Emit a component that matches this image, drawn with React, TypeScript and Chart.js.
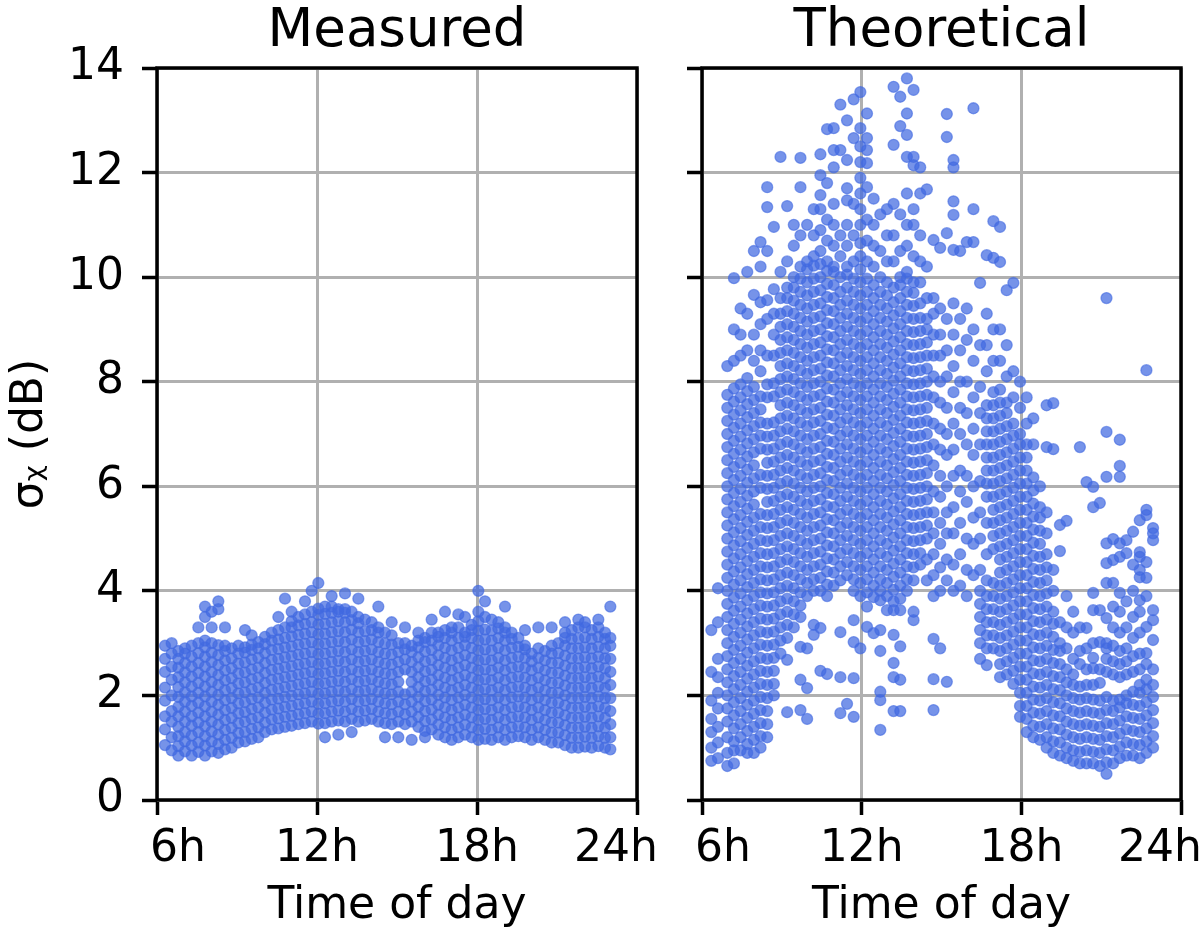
import React, { useEffect, useRef } from 'react';
import Chart from 'chart.js/auto';

// each entry is [hour of day, sigma values seen in that column]
const measuredColumns: [number, number[]][] = [
  [6.3, [1.05, 1.35, 1.6, 1.9, 2.15, 2.45, 2.7, 2.95]],
  [6.55, [0.95, 1.2, 1.5, 1.7, 2.0, 2.3, 2.55, 2.8, 3.0]],
  [6.8, [0.85, 1.03, 1.22, 1.4, 1.6, 1.78, 1.97, 2.16, 2.35, 2.53, 2.7, 2.85]],
  [7.05, [0.93, 1.12, 1.3, 1.5, 1.69, 1.88, 2.06, 2.25, 2.44, 2.62, 2.8, 2.9]],
  [7.3, [0.85, 1.04, 1.23, 1.42, 1.6, 1.8, 1.98, 2.17, 2.36, 2.55, 2.74, 2.95]],
  [7.55, [0.92, 1.1, 1.3, 1.48, 1.67, 1.86, 2.05, 2.24, 2.43, 2.62, 2.81, 3.0, 3.3]],
  [7.8, [0.85, 1.04, 1.22, 1.41, 1.6, 1.79, 1.98, 2.17, 2.36, 2.55, 2.74, 2.92, 3.05, 3.5, 3.7]],
  [8.05, [0.93, 1.12, 1.31, 1.5, 1.69, 1.88, 2.07, 2.26, 2.45, 2.64, 2.82, 3.0, 3.3, 3.6]],
  [8.3, [0.9, 1.07, 1.25, 1.44, 1.63, 1.82, 2.01, 2.2, 2.39, 2.58, 2.77, 2.96, 3.65, 3.8]],
  [8.55, [0.97, 1.15, 1.34, 1.53, 1.72, 1.91, 2.1, 2.29, 2.48, 2.67, 2.85, 2.95, 3.3]],
  [8.8, [1.0, 1.19, 1.38, 1.57, 1.76, 1.95, 2.14, 2.33, 2.52, 2.71, 2.9]],
  [9.05, [1.1, 1.28, 1.47, 1.66, 1.85, 2.04, 2.23, 2.42, 2.61, 2.8, 2.95]],
  [9.3, [1.12, 1.3, 1.5, 1.68, 1.87, 2.06, 2.25, 2.44, 2.63, 2.82, 2.92, 3.25]],
  [9.55, [1.17, 1.36, 1.55, 1.74, 1.93, 2.12, 2.31, 2.5, 2.69, 2.87, 2.97, 3.15]],
  [9.8, [1.2, 1.39, 1.58, 1.77, 1.96, 2.15, 2.34, 2.53, 2.72, 2.9, 3.02]],
  [10.05, [1.3, 1.48, 1.67, 1.86, 2.05, 2.24, 2.43, 2.62, 2.81, 2.98, 3.12]],
  [10.3, [1.35, 1.54, 1.73, 1.92, 2.11, 2.3, 2.49, 2.68, 2.87, 3.05, 3.2]],
  [10.55, [1.37, 1.56, 1.75, 1.94, 2.13, 2.32, 2.51, 2.7, 2.89, 3.07, 3.25, 3.5]],
  [10.8, [1.4, 1.59, 1.78, 1.97, 2.16, 2.35, 2.54, 2.73, 2.92, 3.1, 3.3, 3.85]],
  [11.05, [1.42, 1.61, 1.8, 1.99, 2.18, 2.37, 2.56, 2.75, 2.94, 3.13, 3.3, 3.42, 3.6]],
  [11.3, [1.45, 1.64, 1.83, 2.02, 2.21, 2.4, 2.59, 2.78, 2.97, 3.16, 3.34, 3.5]],
  [11.55, [1.47, 1.66, 1.85, 2.04, 2.23, 2.42, 2.61, 2.8, 2.99, 3.18, 3.37, 3.55, 3.8]],
  [11.8, [1.5, 1.69, 1.88, 2.07, 2.26, 2.45, 2.64, 2.83, 3.02, 3.21, 3.4, 3.6, 4.0]],
  [12.05, [1.46, 1.65, 1.84, 2.03, 2.22, 2.41, 2.6, 2.79, 2.98, 3.17, 3.36, 3.54, 3.66, 4.15]],
  [12.3, [1.2, 1.47, 1.66, 1.85, 2.04, 2.23, 2.42, 2.61, 2.8, 2.99, 3.18, 3.37, 3.56, 3.7]],
  [12.55, [1.5, 1.69, 1.88, 2.07, 2.26, 2.45, 2.64, 2.83, 3.02, 3.21, 3.4, 3.58, 3.7, 3.9]],
  [12.8, [1.25, 1.52, 1.71, 1.9, 2.09, 2.28, 2.47, 2.66, 2.85, 3.04, 3.23, 3.42, 3.6, 3.65]],
  [13.05, [1.5, 1.69, 1.88, 2.07, 2.26, 2.45, 2.64, 2.83, 3.02, 3.21, 3.4, 3.58, 3.65, 3.95]],
  [13.3, [1.3, 1.55, 1.74, 1.93, 2.12, 2.31, 2.5, 2.69, 2.88, 3.07, 3.26, 3.44, 3.6]],
  [13.55, [1.5, 1.69, 1.88, 2.07, 2.26, 2.45, 2.64, 2.83, 3.02, 3.21, 3.38, 3.5, 3.85]],
  [13.8, [1.52, 1.71, 1.9, 2.09, 2.28, 2.47, 2.66, 2.85, 3.04, 3.23, 3.45]],
  [14.05, [1.55, 1.74, 1.93, 2.12, 2.31, 2.5, 2.69, 2.88, 3.07, 3.25, 3.4]],
  [14.3, [1.5, 1.69, 1.88, 2.07, 2.26, 2.45, 2.64, 2.83, 3.02, 3.2, 3.3, 3.7]],
  [14.55, [1.2, 1.47, 1.66, 1.85, 2.04, 2.23, 2.42, 2.61, 2.8, 2.99, 3.2]],
  [14.8, [1.45, 1.64, 1.83, 2.02, 2.21, 2.4, 2.59, 2.78, 2.97, 3.15, 3.4]],
  [15.05, [1.2, 1.5, 1.69, 1.88, 2.07, 2.26, 2.45, 2.64, 2.83, 3.0]],
  [15.3, [1.45, 1.64, 1.83, 2.02, 2.5, 2.69, 2.88, 3.0, 3.3]],
  [15.55, [1.15, 1.5, 1.69, 1.88, 2.07, 2.26, 2.45, 2.64, 2.83, 2.95]],
  [15.8, [1.4, 1.59, 1.78, 1.97, 2.16, 2.35, 2.54, 2.73, 2.92, 3.05, 3.2]],
  [16.05, [1.2, 1.32, 1.51, 1.7, 1.89, 2.08, 2.27, 2.46, 2.65, 2.84, 3.02, 3.1]],
  [16.3, [1.35, 1.54, 1.73, 1.92, 2.11, 2.3, 2.49, 2.68, 2.87, 3.05, 3.2, 3.45]],
  [16.55, [1.25, 1.44, 1.63, 1.82, 2.01, 2.2, 2.39, 2.58, 2.77, 2.96, 3.12, 3.2]],
  [16.8, [1.2, 1.39, 1.58, 1.77, 1.96, 2.15, 2.34, 2.53, 2.72, 2.91, 3.1, 3.25, 3.6]],
  [17.05, [1.15, 1.34, 1.53, 1.72, 1.91, 2.1, 2.29, 2.48, 2.67, 2.86, 3.05, 3.2, 3.3]],
  [17.3, [1.2, 1.39, 1.58, 1.77, 1.96, 2.15, 2.34, 2.53, 2.72, 2.91, 3.1, 3.3, 3.55]],
  [17.55, [1.25, 1.44, 1.63, 1.82, 2.01, 2.2, 2.39, 2.58, 2.77, 2.96, 3.12, 3.2, 3.5]],
  [17.8, [1.2, 1.39, 1.58, 1.77, 1.96, 2.15, 2.34, 2.53, 2.72, 2.91, 3.1, 3.25, 3.35]],
  [18.05, [1.15, 1.34, 1.53, 1.72, 1.91, 2.1, 2.29, 2.48, 2.67, 2.86, 3.05, 3.24, 3.42, 3.6, 4.0]],
  [18.3, [1.17, 1.36, 1.55, 1.74, 1.93, 2.12, 2.31, 2.5, 2.69, 2.88, 3.07, 3.26, 3.5, 3.8]],
  [18.55, [1.15, 1.34, 1.53, 1.72, 1.91, 2.1, 2.29, 2.48, 2.67, 2.86, 3.05, 3.24, 3.45]],
  [18.8, [1.2, 1.39, 1.58, 1.77, 1.96, 2.15, 2.34, 2.53, 2.72, 2.91, 3.1, 3.28, 3.4]],
  [19.05, [1.15, 1.34, 1.53, 1.72, 1.91, 2.1, 2.29, 2.48, 2.67, 2.86, 3.05, 3.2, 3.3, 3.7]],
  [19.3, [1.2, 1.39, 1.58, 1.77, 1.96, 2.15, 2.34, 2.53, 2.72, 2.91, 3.08, 3.2]],
  [19.55, [1.22, 1.41, 1.6, 1.79, 1.98, 2.17, 2.36, 2.55, 2.74, 2.93, 3.1]],
  [19.8, [1.2, 1.39, 1.58, 1.77, 1.96, 2.15, 2.34, 2.53, 2.72, 2.88, 2.95, 3.25]],
  [20.05, [1.15, 1.34, 1.53, 1.72, 1.91, 2.1, 2.29, 2.48, 2.65, 2.8]],
  [20.3, [1.2, 1.39, 1.58, 1.77, 1.96, 2.15, 2.34, 2.53, 2.72, 2.9, 3.3]],
  [20.55, [1.15, 1.34, 1.53, 1.72, 1.91, 2.1, 2.29, 2.48, 2.67, 2.85]],
  [20.8, [1.1, 1.29, 1.48, 1.67, 1.86, 2.05, 2.24, 2.43, 2.62, 2.8, 2.95, 3.3]],
  [21.05, [1.1, 1.29, 1.48, 1.67, 1.86, 2.05, 2.24, 2.43, 2.62, 2.81, 3.0]],
  [21.3, [1.05, 1.24, 1.43, 1.62, 1.81, 2.0, 2.19, 2.38, 2.57, 2.76, 2.95, 3.1, 3.2, 3.4]],
  [21.55, [1.0, 1.19, 1.38, 1.57, 1.76, 1.95, 2.14, 2.33, 2.52, 2.71, 2.9, 3.08, 3.25]],
  [21.8, [1.0, 1.19, 1.38, 1.57, 1.76, 1.95, 2.14, 2.33, 2.52, 2.71, 2.9, 3.09, 3.3, 3.45]],
  [22.05, [1.02, 1.21, 1.4, 1.59, 1.78, 1.97, 2.16, 2.35, 2.54, 2.73, 2.92, 3.11, 3.3, 3.4]],
  [22.3, [1.0, 1.19, 1.38, 1.57, 1.76, 1.95, 2.14, 2.33, 2.52, 2.71, 2.9, 3.08, 3.25]],
  [22.55, [1.03, 1.22, 1.41, 1.6, 1.79, 1.98, 2.17, 2.36, 2.55, 2.74, 2.93, 3.12, 3.3, 3.45]],
  [22.8, [1.0, 1.19, 1.38, 1.57, 1.76, 1.95, 2.14, 2.33, 2.52, 2.71, 2.9, 3.08, 3.2]],
  [23.0, [0.97, 1.2, 1.45, 1.7, 1.95, 2.2, 2.45, 2.7, 2.95, 3.1, 3.7]],
];

const theoreticalColumns: [number, number[]][] = [
  [6.35, [0.75, 1.0, 1.3, 1.55, 1.9, 2.45, 3.25]],
  [6.6, [0.8, 1.1, 1.4, 1.75, 2.05, 2.35, 2.7, 3.4, 4.05]],
  [6.95, [0.65, 0.9, 1.2, 1.5, 1.75, 2.0, 2.25, 2.5, 2.75, 3.0, 3.25, 3.5, 3.75, 4.0, 4.25, 4.5, 4.75, 5.0, 5.25, 5.5, 5.75, 6.0, 6.25, 6.5, 6.75, 7.0, 7.25, 7.5, 7.75, 8.3]],
  [7.2, [0.7, 0.95, 1.12, 1.37, 1.62, 1.87, 2.12, 2.37, 2.62, 2.87, 3.12, 3.37, 3.62, 3.87, 4.12, 4.37, 4.62, 4.87, 5.12, 5.37, 5.62, 5.87, 6.12, 6.37, 6.62, 6.87, 7.12, 7.37, 7.62, 7.87, 8.4, 9.0, 9.98]],
  [7.45, [0.95, 1.2, 1.45, 1.7, 1.95, 2.2, 2.45, 2.7, 2.95, 3.2, 3.45, 3.7, 3.95, 4.2, 4.45, 4.7, 4.95, 5.2, 5.45, 5.7, 5.95, 6.2, 6.45, 6.7, 6.95, 7.2, 7.45, 7.7, 7.95, 8.5, 8.9, 9.4]],
  [7.7, [0.9, 1.07, 1.32, 1.57, 1.82, 2.07, 2.32, 2.57, 2.82, 3.07, 3.32, 3.57, 3.82, 4.07, 4.32, 4.57, 4.82, 5.07, 5.32, 5.57, 5.82, 6.07, 6.32, 6.57, 6.82, 7.07, 7.32, 7.57, 7.82, 8.07, 8.6, 9.3, 10.1]],
  [7.95, [0.9, 1.15, 1.4, 1.65, 1.9, 2.15, 2.4, 2.65, 2.9, 3.15, 3.4, 3.65, 3.9, 4.15, 4.4, 4.65, 4.9, 5.15, 5.4, 5.65, 5.9, 6.15, 6.4, 6.65, 6.9, 7.15, 7.4, 7.65, 7.9, 8.4, 8.9, 9.66, 10.5]],
  [8.2, [1.0, 1.22, 1.47, 1.72, 1.97, 2.22, 2.47, 2.72, 2.97, 3.22, 3.47, 3.72, 3.97, 4.22, 4.47, 4.72, 4.97, 5.22, 5.47, 5.97, 6.22, 6.72, 6.97, 7.22, 7.47, 7.72, 8.2, 8.6, 9.1, 9.52, 10.2, 10.67]],
  [8.45, [1.2, 1.45, 1.7, 1.95, 2.2, 2.45, 2.7, 2.95, 3.2, 3.45, 3.7, 3.95, 4.2, 4.45, 4.7, 4.95, 5.2, 5.45, 5.7, 5.95, 6.2, 6.45, 6.7, 6.95, 7.2, 7.7, 7.95, 8.5, 9.2, 9.56, 10.5, 11.34, 11.72]],
  [8.7, [2.0, 2.22, 2.47, 2.72, 2.97, 3.22, 3.47, 3.72, 3.97, 4.22, 4.47, 4.72, 4.97, 5.22, 5.47, 5.72, 5.97, 6.22, 6.47, 6.72, 6.97, 7.22, 7.72, 7.97, 8.5, 8.9, 9.3, 9.77, 10.96]],
  [8.95, [2.8, 3.05, 3.3, 3.55, 3.8, 4.05, 4.3, 4.55, 4.8, 5.05, 5.3, 5.55, 5.8, 6.05, 6.3, 6.55, 6.8, 7.05, 7.3, 7.55, 7.8, 8.05, 8.3, 8.55, 8.8, 9.05, 9.3, 9.6, 10.1, 12.3]],
  [9.2, [1.68, 2.68, 3.1, 3.35, 3.6, 3.85, 4.1, 4.35, 4.6, 4.85, 5.1, 5.35, 5.6, 5.85, 6.1, 6.35, 6.6, 6.85, 7.1, 7.35, 7.6, 7.85, 8.1, 8.35, 8.6, 8.85, 9.1, 9.35, 9.6, 9.8, 10.3, 11.36]],
  [9.45, [3.3, 3.55, 3.8, 4.05, 4.3, 4.55, 4.8, 5.05, 5.3, 5.55, 5.8, 6.05, 6.3, 6.55, 6.8, 7.05, 7.3, 7.55, 7.8, 8.05, 8.3, 8.55, 8.8, 9.05, 9.3, 9.55, 9.8, 10.0, 10.6, 11.0]],
  [9.7, [1.72, 2.3, 2.93, 3.5, 3.72, 3.97, 4.22, 4.47, 4.72, 4.97, 5.22, 5.47, 5.72, 5.97, 6.22, 6.47, 6.72, 6.97, 7.22, 7.47, 7.72, 7.97, 8.22, 8.47, 8.72, 8.97, 9.22, 9.47, 9.72, 9.97, 10.2, 10.8, 11.72, 12.28]],
  [9.95, [1.55, 2.14, 2.9, 3.9, 4.15, 4.4, 4.65, 4.9, 5.15, 5.4, 5.65, 5.9, 6.15, 6.4, 6.65, 6.9, 7.15, 7.4, 7.65, 7.9, 8.15, 8.4, 8.65, 8.9, 9.15, 9.4, 9.65, 9.9, 10.15, 10.3, 11.0]],
  [10.2, [3.16, 3.35, 4.0, 4.22, 4.47, 4.72, 4.97, 5.22, 5.47, 5.72, 5.97, 6.22, 6.47, 6.72, 6.97, 7.22, 7.47, 7.72, 7.97, 8.22, 8.47, 8.72, 8.97, 9.22, 9.47, 9.72, 9.97, 10.22, 10.4, 10.8, 11.3]],
  [10.45, [2.47, 3.29, 4.0, 4.25, 4.5, 4.75, 5.0, 5.25, 5.5, 5.75, 6.0, 6.25, 6.5, 6.75, 7.0, 7.25, 7.5, 7.75, 8.0, 8.25, 8.5, 8.75, 9.0, 9.25, 9.5, 9.75, 10.0, 10.25, 10.5, 10.9, 11.3, 11.57, 11.95, 12.35]],
  [10.7, [2.41, 3.9, 4.12, 4.37, 4.62, 4.87, 5.12, 5.37, 5.62, 5.87, 6.12, 6.37, 6.62, 6.87, 7.12, 7.37, 7.62, 7.87, 8.12, 8.37, 8.62, 8.87, 9.12, 9.37, 9.62, 9.87, 10.12, 10.3, 10.7, 11.1, 11.8, 12.83]],
  [10.95, [4.1, 4.35, 4.6, 4.85, 5.1, 5.35, 5.6, 5.85, 6.1, 6.35, 6.6, 6.85, 7.1, 7.35, 7.6, 7.85, 8.1, 8.35, 8.6, 8.85, 9.1, 9.35, 9.6, 9.85, 10.1, 10.2, 10.6, 11.0, 11.4, 12.1, 12.43, 12.85]],
  [11.2, [1.66, 2.35, 3.21, 4.2, 4.47, 4.72, 4.97, 5.22, 5.47, 5.72, 5.97, 6.22, 6.47, 6.72, 6.97, 7.22, 7.47, 7.72, 7.97, 8.22, 8.47, 8.72, 8.97, 9.22, 9.47, 9.72, 10.0, 10.4, 10.8, 12.43, 13.3]],
  [11.45, [1.84, 4.3, 4.55, 4.8, 5.05, 5.3, 5.55, 5.8, 6.05, 6.3, 6.55, 6.8, 7.05, 7.3, 7.55, 7.8, 8.05, 8.3, 8.55, 8.8, 9.05, 9.3, 9.55, 9.8, 10.05, 10.2, 10.6, 11.0, 11.47, 11.7, 12.24, 13.0]],
  [11.7, [1.59, 2.33, 3.02, 3.44, 4.0, 4.22, 4.47, 4.72, 4.97, 5.22, 5.47, 5.72, 5.97, 6.22, 6.47, 6.72, 6.97, 7.22, 7.47, 7.72, 7.97, 8.22, 8.47, 8.72, 8.97, 9.22, 9.47, 9.72, 9.97, 10.3, 10.8, 11.4, 12.66, 13.4]],
  [11.95, [2.9, 3.9, 4.15, 4.4, 4.65, 4.9, 5.15, 5.4, 5.65, 5.9, 6.15, 6.4, 6.65, 6.9, 7.15, 7.4, 7.65, 7.9, 8.15, 8.4, 8.65, 8.9, 9.15, 9.4, 9.65, 9.9, 10.15, 10.4, 10.65, 11.0, 11.3, 11.6, 11.9, 12.2, 12.5, 12.85, 13.54]],
  [12.2, [3.31, 3.7, 3.97, 4.22, 4.47, 4.72, 4.97, 5.22, 5.47, 5.72, 5.97, 6.22, 6.47, 6.72, 6.97, 7.22, 7.47, 7.72, 7.97, 8.22, 8.47, 8.72, 8.97, 9.22, 9.47, 9.72, 9.97, 10.3, 10.7, 11.1, 11.72, 12.18, 12.43, 12.66, 13.13]],
  [12.45, [3.19, 3.88, 4.1, 4.35, 4.6, 4.85, 5.1, 5.35, 5.6, 5.85, 6.1, 6.35, 6.6, 6.85, 7.1, 7.35, 7.6, 7.85, 8.1, 8.35, 8.6, 8.85, 9.1, 9.35, 9.6, 9.85, 10.2, 10.6, 11.0, 11.5]],
  [12.7, [1.34, 1.91, 2.07, 2.85, 3.25, 3.82, 4.0, 4.22, 4.47, 4.72, 4.97, 5.22, 5.47, 5.72, 5.97, 6.22, 6.47, 6.72, 6.97, 7.22, 7.47, 7.72, 7.97, 8.22, 8.47, 8.72, 8.97, 9.22, 9.47, 9.72, 10.0, 10.5, 11.2]],
  [12.95, [3.63, 3.9, 4.15, 4.4, 4.65, 4.9, 5.15, 5.4, 5.65, 5.9, 6.15, 6.4, 6.65, 6.9, 7.15, 7.4, 7.65, 7.9, 8.15, 8.4, 8.65, 8.9, 9.15, 9.4, 9.65, 9.9, 10.3, 10.8, 11.3]],
  [13.2, [1.7, 2.35, 2.62, 3.16, 3.63, 3.8, 4.02, 4.27, 4.52, 4.77, 5.02, 5.27, 5.52, 5.77, 6.02, 6.27, 6.52, 6.77, 7.02, 7.27, 7.52, 7.77, 8.02, 8.27, 8.52, 8.77, 9.02, 9.27, 9.52, 9.8, 10.3, 10.8, 11.4, 12.53, 13.64]],
  [13.45, [1.7, 2.3, 2.94, 3.63, 3.85, 4.1, 4.35, 4.6, 4.85, 5.1, 5.35, 5.6, 5.85, 6.1, 6.35, 6.6, 6.85, 7.1, 7.35, 7.6, 7.85, 8.1, 8.35, 8.6, 8.85, 9.1, 9.35, 9.6, 9.85, 10.0, 10.5, 11.2, 12.89, 13.45]],
  [13.7, [4.0, 4.22, 4.47, 4.72, 4.97, 5.22, 5.47, 5.72, 5.97, 6.22, 6.47, 6.72, 6.97, 7.22, 7.47, 7.72, 7.97, 8.22, 8.47, 8.72, 8.97, 9.22, 9.47, 9.72, 9.97, 10.1, 10.6, 11.0, 11.6, 12.3, 12.72, 13.13, 13.8]],
  [13.95, [3.44, 3.6, 4.2, 4.45, 4.7, 4.95, 5.2, 5.45, 5.7, 5.95, 6.2, 6.45, 6.7, 6.95, 7.2, 7.45, 7.7, 7.95, 8.2, 8.45, 8.7, 8.95, 9.2, 9.45, 9.7, 9.9, 10.4, 11.0, 11.3, 12.14, 12.3, 13.58]],
  [14.2, [4.5, 4.72, 4.97, 5.22, 5.47, 5.72, 5.97, 6.22, 6.47, 6.72, 6.97, 7.22, 7.47, 7.72, 7.97, 8.22, 8.47, 8.72, 8.97, 9.22, 9.5, 9.9, 10.3, 10.8, 11.6, 12.1]],
  [14.45, [4.2, 4.6, 5.0, 5.25, 5.5, 5.75, 6.0, 6.25, 6.5, 6.75, 7.0, 7.25, 7.5, 7.75, 8.0, 8.25, 8.5, 8.75, 9.0, 9.2, 9.6, 10.2, 11.68]],
  [14.7, [1.72, 2.31, 3.08, 3.9, 4.3, 4.7, 5.1, 5.5, 5.9, 6.4, 6.8, 7.2, 7.7, 8.1, 8.5, 8.9, 9.3, 9.6, 10.71]],
  [14.95, [2.9, 4.0, 4.45, 4.9, 5.3, 5.8, 6.2, 6.7, 7.1, 7.6, 8.0, 8.5, 8.9, 9.4, 10.56]],
  [15.2, [2.26, 4.2, 4.6, 5.1, 5.5, 6.0, 6.6, 7.0, 7.5, 8.1, 8.6, 9.2, 10.84, 12.68, 13.12]],
  [15.45, [4.0, 4.5, 5.1, 5.6, 6.2, 6.7, 7.2, 7.8, 8.3, 8.9, 9.5, 10.52, 11.19, 11.45, 12.1, 12.24]],
  [15.7, [4.1, 4.7, 5.3, 5.9, 6.3, 7.0, 7.5, 8.0, 8.6, 9.2, 10.5]],
  [15.95, [3.9, 4.4, 5.0, 5.7, 6.2, 6.8, 7.4, 8.0, 8.8, 9.4, 10.67]],
  [16.2, [4.3, 4.9, 5.4, 6.0, 6.6, 7.1, 7.7, 8.4, 9.0, 10.67, 11.3, 13.23]],
  [16.45, [2.7, 3.0, 3.25, 3.5, 3.75, 4.0, 4.4, 5.0, 5.5, 6.1, 6.8, 7.4, 7.9, 8.7, 9.89]],
  [16.7, [2.58, 2.9, 3.15, 3.4, 3.65, 3.9, 4.2, 4.7, 5.3, 5.8, 6.05, 6.3, 6.55, 6.8, 7.05, 7.3, 7.55, 8.2, 8.7, 9.3, 10.42]],
  [16.95, [2.9, 3.15, 3.4, 3.65, 3.9, 4.15, 4.8, 5.05, 5.3, 5.55, 5.8, 6.05, 6.3, 6.55, 6.8, 7.05, 7.3, 7.55, 7.8, 8.4, 9.0, 10.37, 11.07]],
  [17.2, [2.35, 2.6, 2.85, 3.1, 3.35, 3.6, 3.85, 4.1, 4.35, 4.6, 4.85, 5.1, 5.35, 5.6, 5.85, 6.1, 6.35, 6.6, 6.85, 7.1, 7.35, 7.6, 7.85, 8.4, 9.0, 10.29, 10.96]],
  [17.45, [2.4, 2.65, 2.9, 3.15, 3.4, 3.65, 3.9, 4.15, 4.4, 4.65, 4.9, 5.15, 5.4, 5.65, 5.9, 6.15, 6.4, 6.65, 6.9, 7.15, 7.4, 7.6, 8.1, 8.7, 9.75]],
  [17.7, [2.22, 2.47, 2.72, 2.97, 3.22, 3.47, 3.72, 3.97, 4.22, 4.47, 4.72, 4.97, 5.22, 5.47, 5.72, 5.97, 6.22, 6.47, 6.72, 6.97, 7.2, 7.7, 8.2, 9.89]],
  [17.95, [1.59, 1.8, 2.05, 2.3, 2.55, 2.8, 3.05, 3.3, 3.55, 3.8, 4.05, 4.3, 4.55, 4.8, 5.05, 5.3, 5.55, 5.8, 6.05, 6.3, 6.55, 6.8, 7.0, 7.5, 8.0]],
  [18.2, [1.3, 1.55, 1.8, 2.05, 2.3, 2.55, 2.8, 3.05, 3.3, 3.55, 3.8, 4.05, 4.3, 4.55, 4.8, 5.05, 5.3, 5.55, 5.8, 6.05, 6.3, 6.55, 6.8, 7.2, 7.7]],
  [18.45, [1.2, 1.42, 1.67, 1.92, 2.17, 2.42, 2.67, 2.92, 3.17, 3.42, 3.67, 3.92, 4.17, 4.42, 4.67, 4.92, 5.17, 5.42, 5.67, 5.92, 6.17, 6.8, 7.3]],
  [18.7, [1.15, 1.4, 1.65, 1.9, 2.15, 2.4, 2.65, 2.9, 3.15, 3.4, 3.65, 3.9, 4.15, 4.4, 4.65, 4.9, 5.15, 5.4, 5.6, 6.0]],
  [18.95, [1.0, 1.2, 1.45, 1.7, 1.95, 2.2, 2.45, 2.7, 2.95, 3.2, 3.45, 3.7, 3.95, 4.2, 4.45, 4.7, 5.1, 5.5, 6.75, 7.55]],
  [19.2, [0.9, 1.12, 1.37, 1.62, 1.87, 2.12, 2.37, 2.62, 2.87, 3.12, 3.37, 3.6, 4.0, 4.4, 6.71, 7.59]],
  [19.45, [0.85, 1.1, 1.35, 1.6, 1.85, 2.1, 2.35, 2.6, 2.85, 3.0, 3.4, 4.76, 5.26]],
  [19.7, [0.8, 1.0, 1.25, 1.5, 1.75, 2.0, 2.25, 2.5, 2.9, 3.3, 3.9, 5.34]],
  [19.95, [0.75, 0.95, 1.2, 1.45, 1.7, 1.95, 2.2, 2.4, 2.7, 3.2, 3.6]],
  [20.2, [0.7, 0.92, 1.17, 1.42, 1.67, 1.92, 2.17, 2.6, 2.85, 3.3, 6.75]],
  [20.45, [0.7, 0.95, 1.2, 1.45, 1.7, 1.95, 2.2, 2.5, 2.9, 3.29, 6.08]],
  [20.7, [0.7, 0.92, 1.17, 1.42, 1.67, 1.92, 2.2, 2.52, 2.72, 3.0, 3.63, 3.96, 5.6, 5.99]],
  [20.95, [0.65, 0.9, 1.15, 1.4, 1.65, 1.9, 2.24, 2.5, 3.02, 3.63, 5.68]],
  [21.2, [0.5, 0.72, 0.97, 1.22, 1.47, 1.72, 1.97, 2.45, 2.7, 2.9, 3.0, 3.48, 4.15, 4.53, 4.91, 6.18, 7.04, 9.6]],
  [21.45, [0.7, 0.95, 1.2, 1.45, 1.7, 1.9, 2.4, 2.65, 2.95, 3.3, 3.7, 4.15, 4.59, 4.99]],
  [21.7, [0.8, 1.02, 1.27, 1.52, 1.77, 1.92, 2.35, 2.6, 2.85, 3.2, 3.6, 3.96, 4.65, 4.91, 6.18, 6.39, 6.89]],
  [21.95, [0.85, 1.1, 1.35, 1.6, 1.85, 2.0, 2.4, 2.65, 2.9, 3.3, 3.8, 4.72, 4.97]],
  [22.2, [0.85, 1.07, 1.32, 1.57, 1.82, 2.07, 2.45, 2.75, 3.1, 3.5, 4.0, 4.5, 5.13]],
  [22.45, [0.8, 1.05, 1.3, 1.55, 1.8, 2.05, 2.2, 2.5, 2.8, 3.2, 3.6, 3.82, 4.26, 4.4, 4.65, 4.74, 5.35]],
  [22.7, [0.9, 1.12, 1.37, 1.62, 1.87, 2.12, 2.3, 2.6, 2.81, 3.31, 3.9, 4.25, 4.55, 5.45, 5.55, 8.22]],
  [22.95, [1.0, 1.22, 1.47, 1.72, 1.97, 2.2, 2.5, 3.06, 3.44, 3.63, 4.97, 5.1, 5.2]],
];

const hourTicks = [6, 12, 18, 24];
const hourLabels = ['   6h', '12h', '18h', '24h   '];
const sigmaTicks = [0, 2, 4, 6, 8, 10, 12, 14];

const FONT = 'DejaVu Sans';
const DOT = 'rgba(65, 105, 225, 0.72)';
const DOT_EDGE = 'rgba(65, 105, 225, 0.6)';

const toPoints = (cols: [number, number[]][]) =>
  cols.flatMap(([h, vals]) => vals.map((v) => ({ x: h, y: v })));

// matplotlib-style box around the axes
const spines = {
  id: 'spines',
  afterDraw(chart: any) {
    const { ctx, chartArea: a } = chart;
    ctx.save();
    ctx.strokeStyle = '#000';
    ctx.lineWidth = 3.5;
    ctx.strokeRect(a.left, a.top, a.right - a.left, a.bottom - a.top);
    ctx.restore();
  },
};

const gridOpts = {
  color: '#b0b0b0',
  lineWidth: 3,
  drawTicks: true,
  tickLength: 15,
  tickColor: '#000',
  tickWidth: 3.5,
};

function buildConfig(title: string, cols: [number, number[]][], left: boolean): any {
  return {
    type: 'scatter',
    data: {
      datasets: [
        {
          data: toPoints(cols),
          pointRadius: 5.5,
          pointHoverRadius: 5.5,
          pointBorderWidth: 1.3,
          backgroundColor: DOT,
          borderColor: DOT_EDGE,
        },
      ],
    },
    options: {
      responsive: false,
      animation: false,
      events: [],
      layout: {
        padding: left
          ? { left: 0, right: 563, top: 0, bottom: 0 }
          : { left: 662, right: 19, top: 0, bottom: 0 },
      },
      plugins: {
        legend: { display: false },
        tooltip: { enabled: false },
        title: {
          display: true,
          text: title,
          fullSize: false,
          color: '#000',
          font: { family: FONT, size: 53, weight: 'normal' },
          padding: { top: 0, bottom: 4.4 },
        },
      },
      scales: {
        x: {
          type: 'linear',
          min: 6,
          max: 24,
          z: 1,
          afterBuildTicks: (s: any) => {
            s.ticks = hourTicks.map((v) => ({ value: v }));
          },
          afterFit: (s: any) => {
            s.height = 137;
            s.paddingLeft = 0;
            s.paddingRight = 0;
          },
          grid: gridOpts,
          border: { display: false },
          ticks: {
            color: '#000',
            font: { family: FONT, size: 44 },
            padding: 8,
            maxRotation: 0,
            autoSkip: false,
            callback: (v: number) => hourLabels[hourTicks.indexOf(v)],
          },
          title: {
            display: true,
            text: 'Time of day',
            color: '#000',
            font: { family: FONT, size: 44 },
            padding: { top: 0, bottom: 4 },
          },
        },
        y: {
          type: 'linear',
          min: 0,
          max: 14,
          z: 1,
          afterBuildTicks: (s: any) => {
            s.ticks = sigmaTicks.map((v) => ({ value: v }));
          },
          afterFit: (s: any) => {
            s.width = left ? 157 : 40;
          },
          grid: gridOpts,
          border: { display: false },
          ticks: {
            display: left,
            color: '#000',
            font: { family: FONT, size: 44 },
            padding: 18,
          },
          title: {
            display: left,
            text: 'σᵪ (dB)',
            color: '#000',
            font: { family: FONT, size: 44 },
            padding: { top: 4, bottom: 0 },
          },
        },
      },
    },
    plugins: [spines],
  };
}

const App: React.FC = () => {
  const leftRef = useRef<HTMLCanvasElement | null>(null);
  const rightRef = useRef<HTMLCanvasElement | null>(null);

  useEffect(() => {
    const charts: Chart[] = [];
    if (leftRef.current) {
      charts.push(new Chart(leftRef.current, buildConfig('Measured', measuredColumns, true)));
    }
    if (rightRef.current) {
      charts.push(new Chart(rightRef.current, buildConfig('Theoretical', theoreticalColumns, false)));
    }
    return () => {
      charts.forEach((c) => c.destroy());
    };
  }, []);

  const canvasStyle: React.CSSProperties = { position: 'absolute', left: 0, top: 0, width: 1200, height: 937 };

  return (
    <div style={{ position: 'absolute', left: 0, top: 0, width: 1200, height: 937, background: '#fff', overflow: 'hidden' }}>
      <canvas ref={leftRef} width={1200} height={937} style={canvasStyle}></canvas>
      <canvas ref={rightRef} width={1200} height={937} style={canvasStyle}></canvas>
    </div>
  );
};

export default App;
